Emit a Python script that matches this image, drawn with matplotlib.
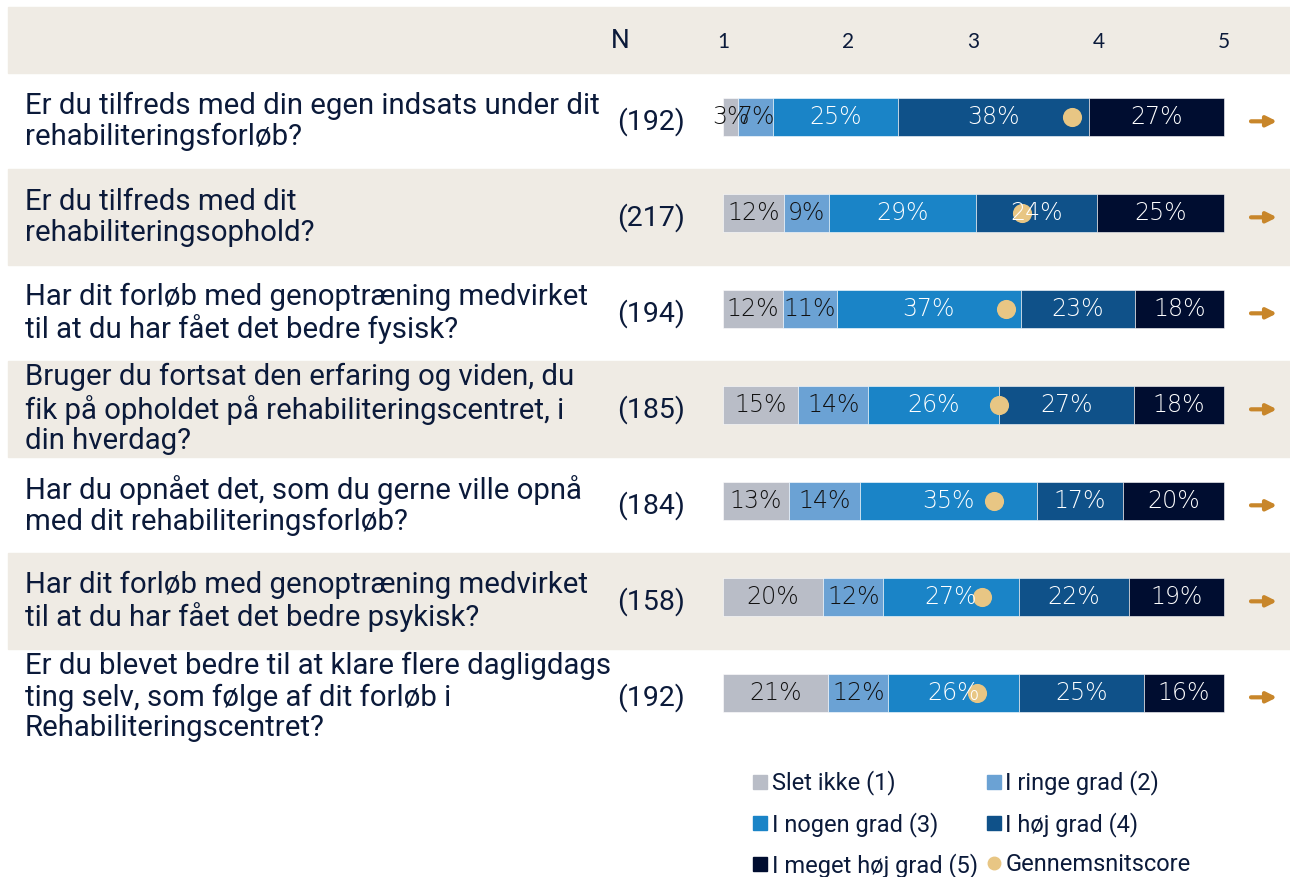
import matplotlib.pyplot as plt
from matplotlib.patches import Rectangle
from matplotlib.lines import Line2D
import numpy as np

questions = [
    "Er du tilfreds med din egen indsats under dit\nrehabiliteringsforløb?",
    "Er du tilfreds med dit\nrehabiliteringsophold?",
    "Har dit forløb med genoptræning medvirket\ntil at du har fået det bedre fysisk?",
    "Bruger du fortsat den erfaring og viden, du\nfik på opholdet på rehabiliteringscentret, i\ndin hverdag?",
    "Har du opnået det, som du gerne ville opnå\nmed dit rehabiliteringsforløb?",
    "Har dit forløb med genoptræning medvirket\ntil at du har fået det bedre psykisk?",
    "Er du blevet bedre til at klare flere dagligdags\nting selv, som følge af dit forløb i\nRehabiliteringscentret?",
]
n_resp = [192, 217, 194, 185, 184, 158, 192]

slet = [3, 12, 12, 15, 13, 20, 21]
ringe = [7, 9, 11, 14, 14, 12, 12]
nogen = [25, 29, 37, 26, 35, 27, 26]
hoj = [38, 24, 23, 27, 17, 22, 25]
meget = [27, 25, 18, 18, 20, 19, 16]
means = [3.79, 3.39, 3.26, 3.20, 3.16, 3.07, 3.03]

labels = ["Slet ikke (1)", "I ringe grad (2)", "I nogen grad (3)",
          "I høj grad (4)", "I meget høj grad (5)"]
colors = ["#B9BDC7", "#6BA2D4", "#1A84C7", "#0F5189", "#000D30"]
label_col = ["#111111", "#111111", "white", "white", "white"]
ticks = [1, 2, 3, 4, 5]

band = "#EFEBE4"
txt = "#0B1A3A"
dot = "#E8C684"
arrow_c = "#C8862A"

W, H = 1290, 877
fig = plt.figure(figsize=(W / 100, H / 100), dpi=100)
ax = fig.add_axes([0, 0, 1, 1])
# x: 1 -> px 723, 5 -> px 1224 ; y: row i centre -> px 117 + 96 i
sx = (1224 - 723) / 4
ax.set_xlim(1 - 723 / sx, 5 + (W - 1224) / sx)
ax.set_ylim((H - 117) / 96, -117 / 96)
ax.axis("off")

def px2x(p):
    return 1 + (p - 723) / sx

x0, x1 = px2x(8), px2x(W)
# header band
ax.add_patch(Rectangle((x0, (7 - 117) / 96), x1 - x0, 66 / 96, color=band, zorder=0))
ax.text(px2x(620), (41 - 117) / 96, "N", ha="center", va="center",
        fontsize=19, color=txt, family="Roboto")
for t in ticks:
    ax.text(t, (42 - 117) / 96, str(t), ha="center", va="center",
            fontsize=15, color=txt, family="Lato")

data = np.array([slet, ringe, nogen, hoj, meget], dtype=float)
for i in range(len(questions)):
    yc = i + 0.045
    if i % 2 == 1:
        ax.add_patch(Rectangle((x0, yc - 0.5), x1 - x0, 1, color=band, zorder=0))
    ax.text(px2x(25), yc, questions[i], ha="left", va="center", fontsize=21.2,
            color=txt, family="Roboto", linespacing=1.13)
    ax.text(px2x(651), yc, "(%d)" % n_resp[i], ha="center", va="center",
            fontsize=20.5, color=txt, family="Roboto")
    vals = data[:, i]
    frac = vals / vals.sum() * 4
    left = 1.0
    for k in range(5):
        ax.barh(i, frac[k], left=left, height=0.4, color=colors[k],
                edgecolor="white", linewidth=0.4, zorder=2)
        ax.text(left + frac[k] / 2, i, "%d%%" % vals[k], ha="center", va="center",
                fontsize=17, color=label_col[k], family="DejaVu Sans",
                fontweight="light", zorder=4)
        left += frac[k]
    ax.scatter(means[i], i, s=190, color=dot, zorder=3, linewidths=0)
    ax.annotate("", xy=(px2x(1277), yc), xytext=(px2x(1251), yc),
                arrowprops=dict(arrowstyle="-|>", color=arrow_c, lw=3,
                                mutation_scale=15, shrinkA=0, shrinkB=0))

handles = [Line2D([], [], marker="s", ls="", color=c, markersize=10) for c in colors]
handles.append(Line2D([], [], marker="o", ls="", color=dot, markersize=9))
names = labels + ["Gennemsnitscore"]
order = [0, 2, 4, 1, 3, 5]
ax.legend([handles[j] for j in order], [names[j] for j in order], ncol=2,
          loc="upper left", bbox_to_anchor=(739 / W, 1 - 761 / H), frameon=False,
          prop={"family": "Roboto", "size": 17}, labelcolor=txt,
          handletextpad=0.0, handlelength=1.0, columnspacing=0.15,
          labelspacing=0.69, borderaxespad=0)

fig.savefig("out.png", dpi=100)
